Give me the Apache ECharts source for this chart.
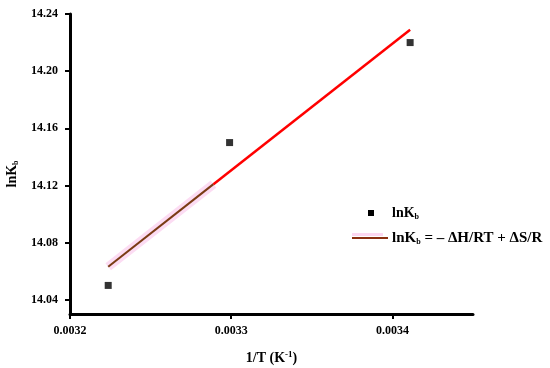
<!DOCTYPE html>
<html>
<head>
<meta charset="utf-8">
<script src="https://cdn.jsdelivr.net/npm/echarts@6/dist/echarts.min.js"></script>
<style>html,body{margin:0;padding:0;background:#fff;}#c{width:550px;height:368px;}</style>
</head>
<body>
<div id="c"></div>
<script>
// measured points (1/T, lnKb)
const pointX = [0.0032237, 0.0032990, 0.0034110];
const pointY = [14.050, 14.150, 14.220];
// fitted line: start, colour-change point, end
const fitX = [0.0032237, 0.0032890, 0.0034110];
const fitY = [14.0631, 14.1209, 14.2290];
// tick labels
const xTicks = [0.0032, 0.0033, 0.0034];
const yTicks = [14.04, 14.08, 14.12, 14.16, 14.20, 14.24];

const FONT = '"Liberation Serif", "Times New Roman", serif';
const chart = echarts.init(document.getElementById('c'), null, {renderer: 'canvas'});

const pts = pointX.map((x, i) => [x, pointY[i]]);
const fitLow = [[fitX[0], fitY[0]], [fitX[1], fitY[1]]];
const fitHigh = [[fitX[1], fitY[1]], [fitX[2], fitY[2]]];

const option = {
  animation: false,
  backgroundColor: '#fff',
  grid: {left: 70, right: 77, top: 14, bottom: 54, containLabel: false, outerBoundsMode: 'none'},
  xAxis: {
    type: 'value', min: 0.0032, max: 0.00345,
    splitLine: {show: false},
    axisLine: {lineStyle: {color: '#000', width: 3}},
    axisTick: {show: true, inside: false, length: 5, lineStyle: {color: '#000', width: 2}, customValues: xTicks},
    axisLabel: {customValues: xTicks, margin: 11, color: '#000', fontFamily: FONT, fontWeight: 'bold', fontSize: 12,
      formatter: v => v.toFixed(4)},
    name: '1/T (K{sup|-1})', nameLocation: 'middle', nameGap: 36,
    nameTextStyle: {color: '#000', fontFamily: FONT, fontWeight: 'bold', fontSize: 14,
      rich: {sup: {fontSize: 9, fontFamily: FONT, fontWeight: 'bold', color: '#000', verticalAlign: 'top', padding: [0, 0, 8, 0]}}}
  },
  yAxis: {
    type: 'value', min: 14.03, max: 14.24,
    splitLine: {show: false},
    axisLine: {lineStyle: {color: '#000', width: 3}},
    axisTick: {show: true, inside: false, length: 5, lineStyle: {color: '#000', width: 2}, customValues: yTicks},
    axisLabel: {customValues: yTicks, margin: 12, color: '#000', fontFamily: FONT, fontWeight: 'bold', fontSize: 12,
      formatter: v => v.toFixed(2)},
    name: 'lnK{sub|b}', nameLocation: 'middle', nameGap: 48, nameRotate: 90,
    nameTextStyle: {color: '#000', fontFamily: FONT, fontWeight: 'bold', fontSize: 14, padding: [0, 20, 0, 0],
      rich: {sub: {fontSize: 8, fontFamily: FONT, fontWeight: 'bold', color: '#000', padding: [8, 0, 0, 0]}}}
  },
  series: [
    {type: 'line', data: fitLow, symbol: 'none', silent: true, z: 1,
      lineStyle: {color: '#fcdcf3', width: 9}},
    {type: 'line', data: fitLow, symbol: 'none', silent: true, z: 2,
      lineStyle: {color: '#7a3b14', width: 2}},
    {type: 'line', data: fitHigh, symbol: 'none', silent: true, z: 2,
      lineStyle: {color: '#ff0000', width: 2.5}},
    {type: 'scatter', data: pts, symbol: 'rect', symbolSize: 7, z: 3,
      itemStyle: {color: '#000'}}
  ],
  graphic: [
    {type: 'rect', shape: {x: 368, y: 210, width: 6, height: 6}, style: {fill: '#000'}},
    {type: 'text', x: 392, y: 213, style: {text: 'lnK{sub|b}', fill: '#000', font: 'bold 14px ' + FONT,
      verticalAlign: 'middle',
      rich: {sub: {fontSize: 8, fontWeight: 'bold', fontFamily: FONT, fill: '#000', padding: [8, 0, 0, 0]}}}},
    {type: 'rect', shape: {x: 352, y: 233, width: 31, height: 3}, style: {fill: '#fcd7f1'}},
    {type: 'line', shape: {x1: 352, y1: 238, x2: 388, y2: 238}, style: {stroke: '#8b2f10', lineWidth: 2}},
    {type: 'text', x: 392, y: 238, style: {text: 'lnK{sub|b} = – ΔH/RT + ΔS/R', fill: '#000', font: 'bold 15px ' + FONT,
      verticalAlign: 'middle',
      rich: {sub: {fontSize: 8, fontWeight: 'bold', fontFamily: FONT, fill: '#000', padding: [8, 0, 0, 0]}}}}
  ]
};
chart.setOption(option);
</script>
</body>
</html>
